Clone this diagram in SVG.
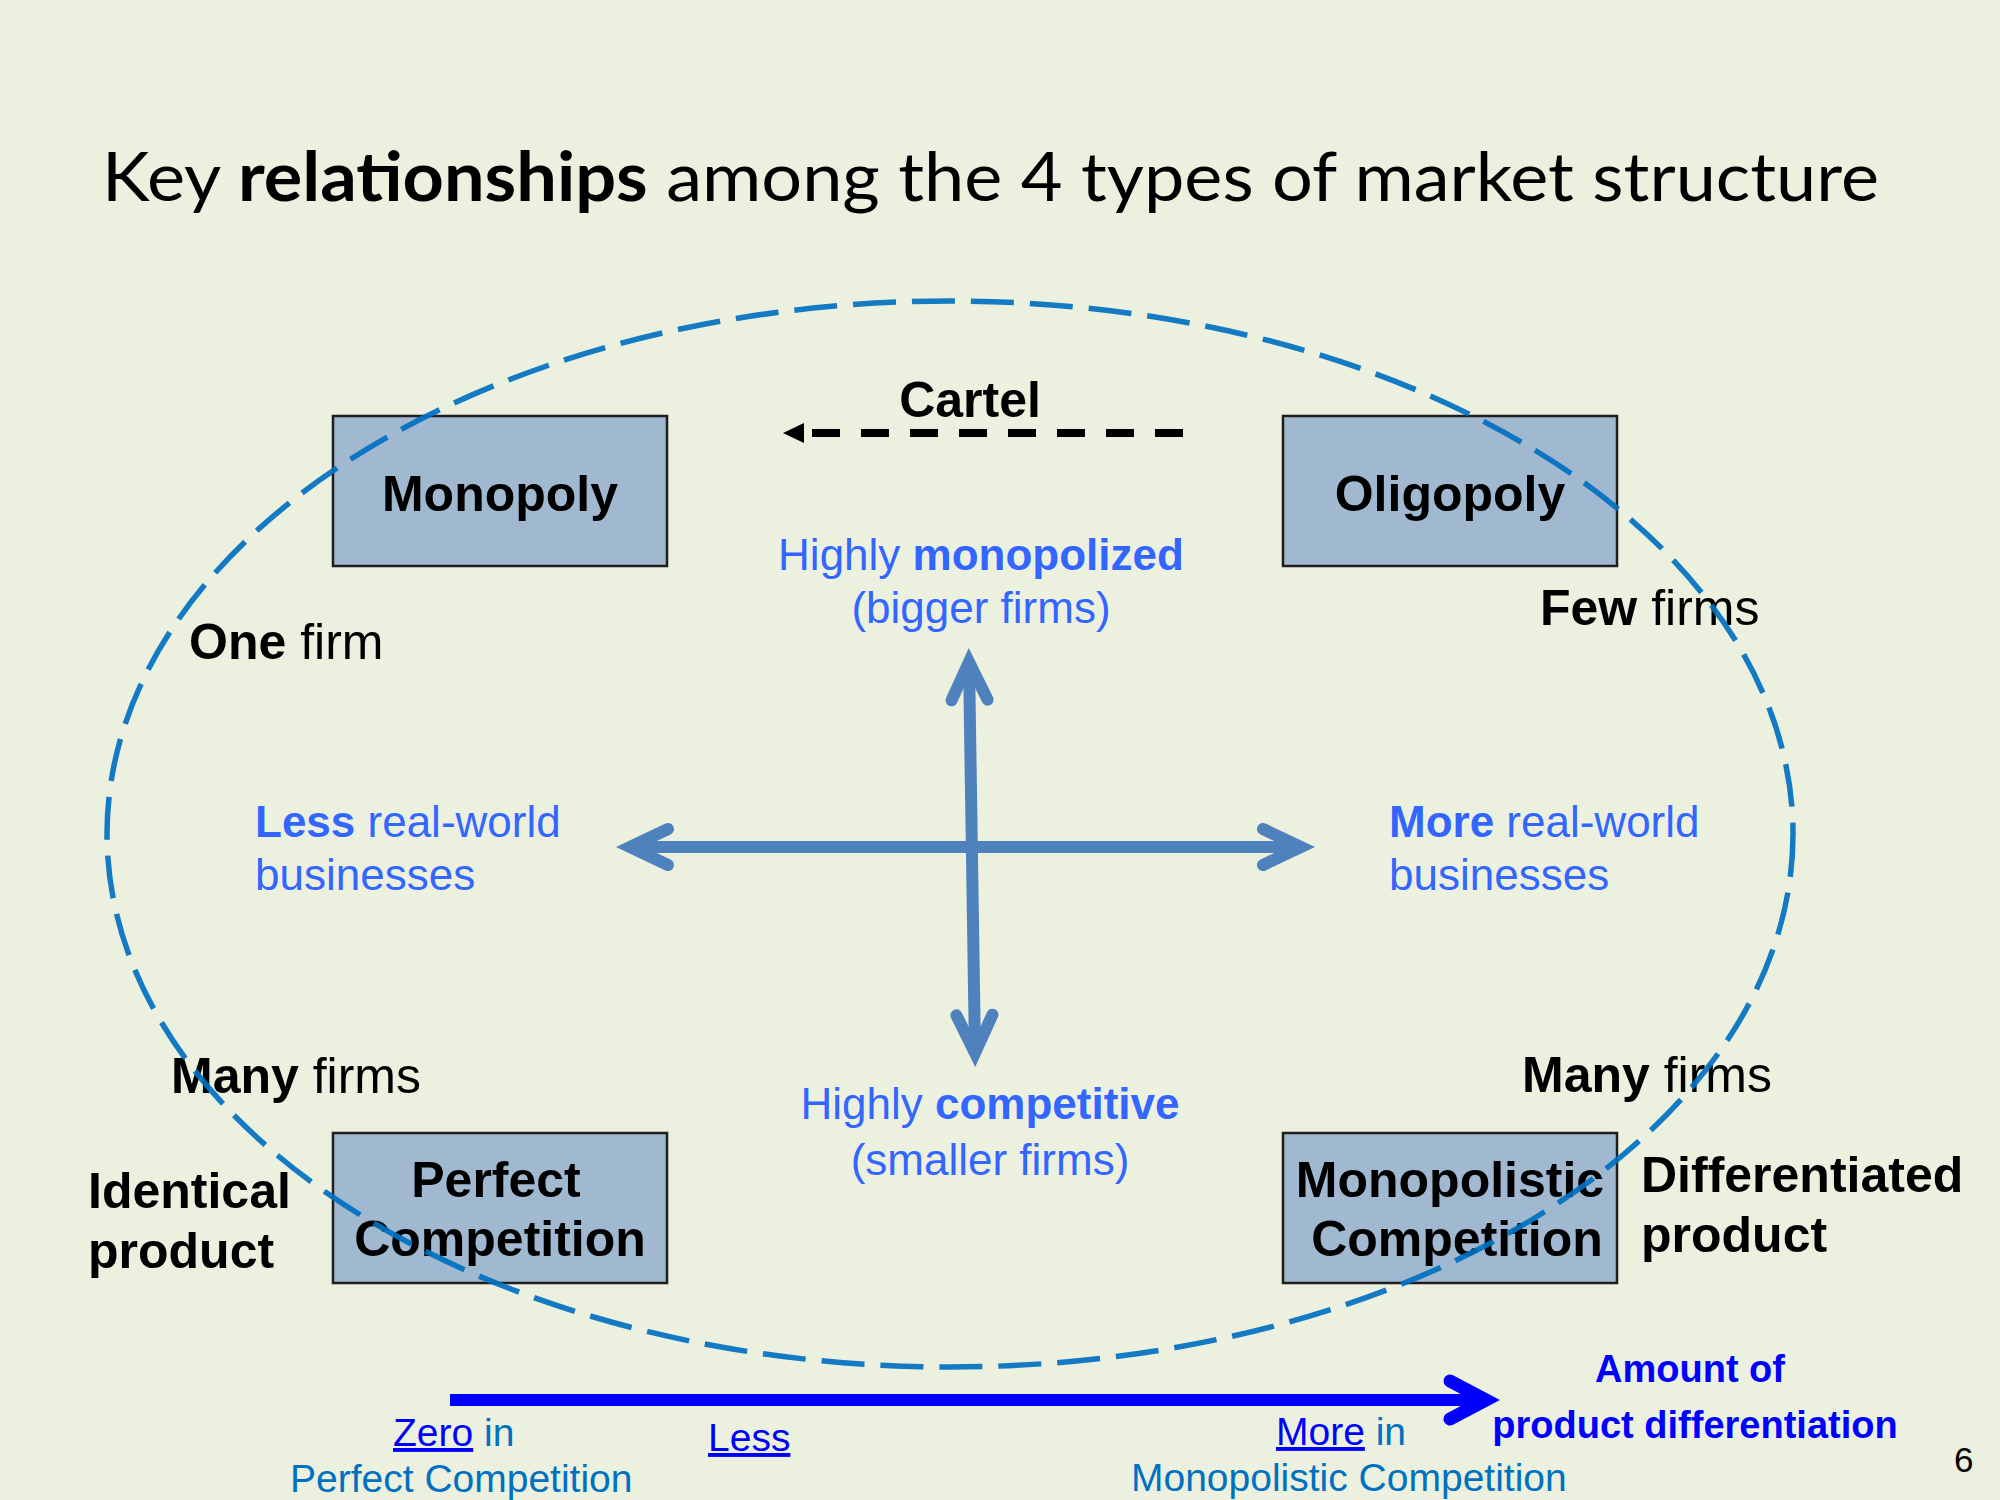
<svg xmlns="http://www.w3.org/2000/svg" width="2000" height="1500" viewBox="0 0 2000 1500">
<style>
  .bg { fill: #EBF0DF; }
  .title { font-family: Lato, "Open Sans", "Liberation Sans", sans-serif; font-size: 68px; fill: #000; }
  .box { fill: #A0B9D0; stroke: #1E1E1E; stroke-width: 2.5; }
  .bt { font-family: "Liberation Sans", Arial, sans-serif; font-size: 50px; font-weight: bold; fill: #000; text-anchor: middle; }
  .lbl { font-family: "Liberation Sans", Arial, sans-serif; font-size: 50px; fill: #000; }
  .b { font-weight: bold; }
  .blu { font-family: "Liberation Sans", Arial, sans-serif; font-size: 44px; fill: #3366FF; }
  .mid { text-anchor: middle; }
  .cross { fill: none; stroke: #4F81BD; stroke-width: 12; }
  .ell { fill: none; stroke: #0070C0; stroke-width: 5.5; stroke-dasharray: 43 16; opacity: 0.92; }
  .cartel { fill: none; stroke: #000; stroke-width: 8; stroke-dasharray: 28 21; }
  .barrow { fill: none; stroke: #0000FF; stroke-width: 12; }
  .bot { font-family: "Liberation Sans", Arial, sans-serif; font-size: 39px; fill: #0070C0; }
  .link { fill: #0000FF; text-decoration: underline; }
  .amt { font-family: "Liberation Sans", Arial, sans-serif; font-size: 38px; font-weight: bold; fill: #0000FF; text-anchor: middle; }
</style>
<defs>
  <marker id="chev" markerUnits="userSpaceOnUse" viewBox="-60 -40 80 80" markerWidth="80" markerHeight="80" refX="0" refY="0" orient="auto-start-reverse" overflow="visible">
    <path d="M -38 -18 L 0 0 L -38 18" fill="none" stroke="#4F81BD" stroke-width="12" stroke-linecap="round" stroke-linejoin="miter"/>
  </marker>
  <marker id="chevBlue" markerUnits="userSpaceOnUse" viewBox="-60 -40 80 80" markerWidth="80" markerHeight="80" refX="0" refY="0" orient="auto" overflow="visible">
    <path d="M -36 -19 L 0 0 L -36 19" fill="none" stroke="#0000FF" stroke-width="13" stroke-linecap="round" stroke-linejoin="miter"/>
  </marker>
  <marker id="tri" markerUnits="userSpaceOnUse" viewBox="-40 -20 60 40" markerWidth="60" markerHeight="40" refX="0" refY="0" orient="auto" overflow="visible">
    <path d="M -29 0 L -8 -10 L -8 10 Z" fill="#000"/>
  </marker>
</defs>

<rect class="bg" x="0" y="0" width="2000" height="1500"/>

<text class="title" x="102" y="201" textLength="1777" lengthAdjust="spacingAndGlyphs">Key <tspan font-weight="bold">relationships</tspan> among the 4 types of market structure</text>

<g id="monopoly">
  <rect class="box" x="333" y="416" width="334" height="150"/>
  <text class="bt" x="500" y="511">Monopoly</text>
</g>
<g id="oligopoly">
  <rect class="box" x="1283" y="416" width="334" height="150"/>
  <text class="bt" x="1450" y="511">Oligopoly</text>
</g>
<g id="perfect-competition">
  <rect class="box" x="333" y="1133" width="334" height="150"/>
  <text class="bt" x="496" y="1197">Perfect</text>
  <text class="bt" x="500" y="1256">Competition</text>
</g>
<g id="monopolistic-competition">
  <rect class="box" x="1283" y="1133" width="334" height="150"/>
  <text class="bt" x="1450" y="1197">Monopolistic</text>
  <text class="bt" x="1457" y="1256">Competition</text>
</g>

<g id="connectors">
  <line class="cartel" x1="812" y1="433" x2="1183" y2="433" marker-start="url(#tri)"/>
  <line class="cross" x1="630" y1="847" x2="1301" y2="847" marker-start="url(#chev)" marker-end="url(#chev)"/>
  <line class="cross" x1="969" y1="662" x2="975" y2="1053" marker-start="url(#chev)" marker-end="url(#chev)"/>
  <line class="barrow" x1="450" y1="1400" x2="1486" y2="1400" marker-end="url(#chevBlue)"/>
</g>

<g id="labels">
  <text class="lbl b" x="970" y="417" text-anchor="middle">Cartel</text>
  <text class="blu mid" x="981" y="570">Highly <tspan class="b">monopolized</tspan></text>
  <text class="blu mid" x="981" y="623">(bigger firms)</text>
  <text class="lbl" x="189" y="659"><tspan class="b">One</tspan> firm</text>
  <text class="lbl" x="1540" y="625"><tspan class="b">Few</tspan> firms</text>
  <text class="blu" x="255" y="837"><tspan class="b">Less</tspan> real-world</text>
  <text class="blu" x="255" y="890">businesses</text>
  <text class="blu" x="1389" y="837"><tspan class="b">More</tspan> real-world</text>
  <text class="blu" x="1389" y="890">businesses</text>
  <text class="lbl" x="171" y="1093"><tspan class="b">Many</tspan> firms</text>
  <text class="lbl" x="1522" y="1092"><tspan class="b">Many</tspan> firms</text>
  <text class="blu mid" x="990" y="1119">Highly <tspan class="b">competitive</tspan></text>
  <text class="blu mid" x="990" y="1175">(smaller firms)</text>
  <text class="lbl b" x="88" y="1208">Identical</text>
  <text class="lbl b" x="88" y="1268">product</text>
  <text class="lbl b" x="1641" y="1192">Differentiated</text>
  <text class="lbl b" x="1641" y="1252">product</text>
  <text class="amt" x="1690" y="1382">Amount of</text>
  <text class="amt" x="1695" y="1438">product differentiation</text>
  <text class="bot" x="393" y="1446"><tspan class="link">Zero</tspan> in</text>
  <text class="bot" x="290" y="1492">Perfect Competition</text>
  <text class="bot" x="708" y="1451"><tspan class="link">Less</tspan></text>
  <text class="bot" x="1276" y="1445"><tspan class="link">More</tspan> in</text>
  <text class="bot" x="1131" y="1491">Monopolistic Competition</text>
  <text x="1954" y="1472" font-family="Liberation Sans, Arial, sans-serif" font-size="35" fill="#000">6</text>
</g>

<ellipse class="ell" cx="950" cy="834" rx="843" ry="533"/>
</svg>
